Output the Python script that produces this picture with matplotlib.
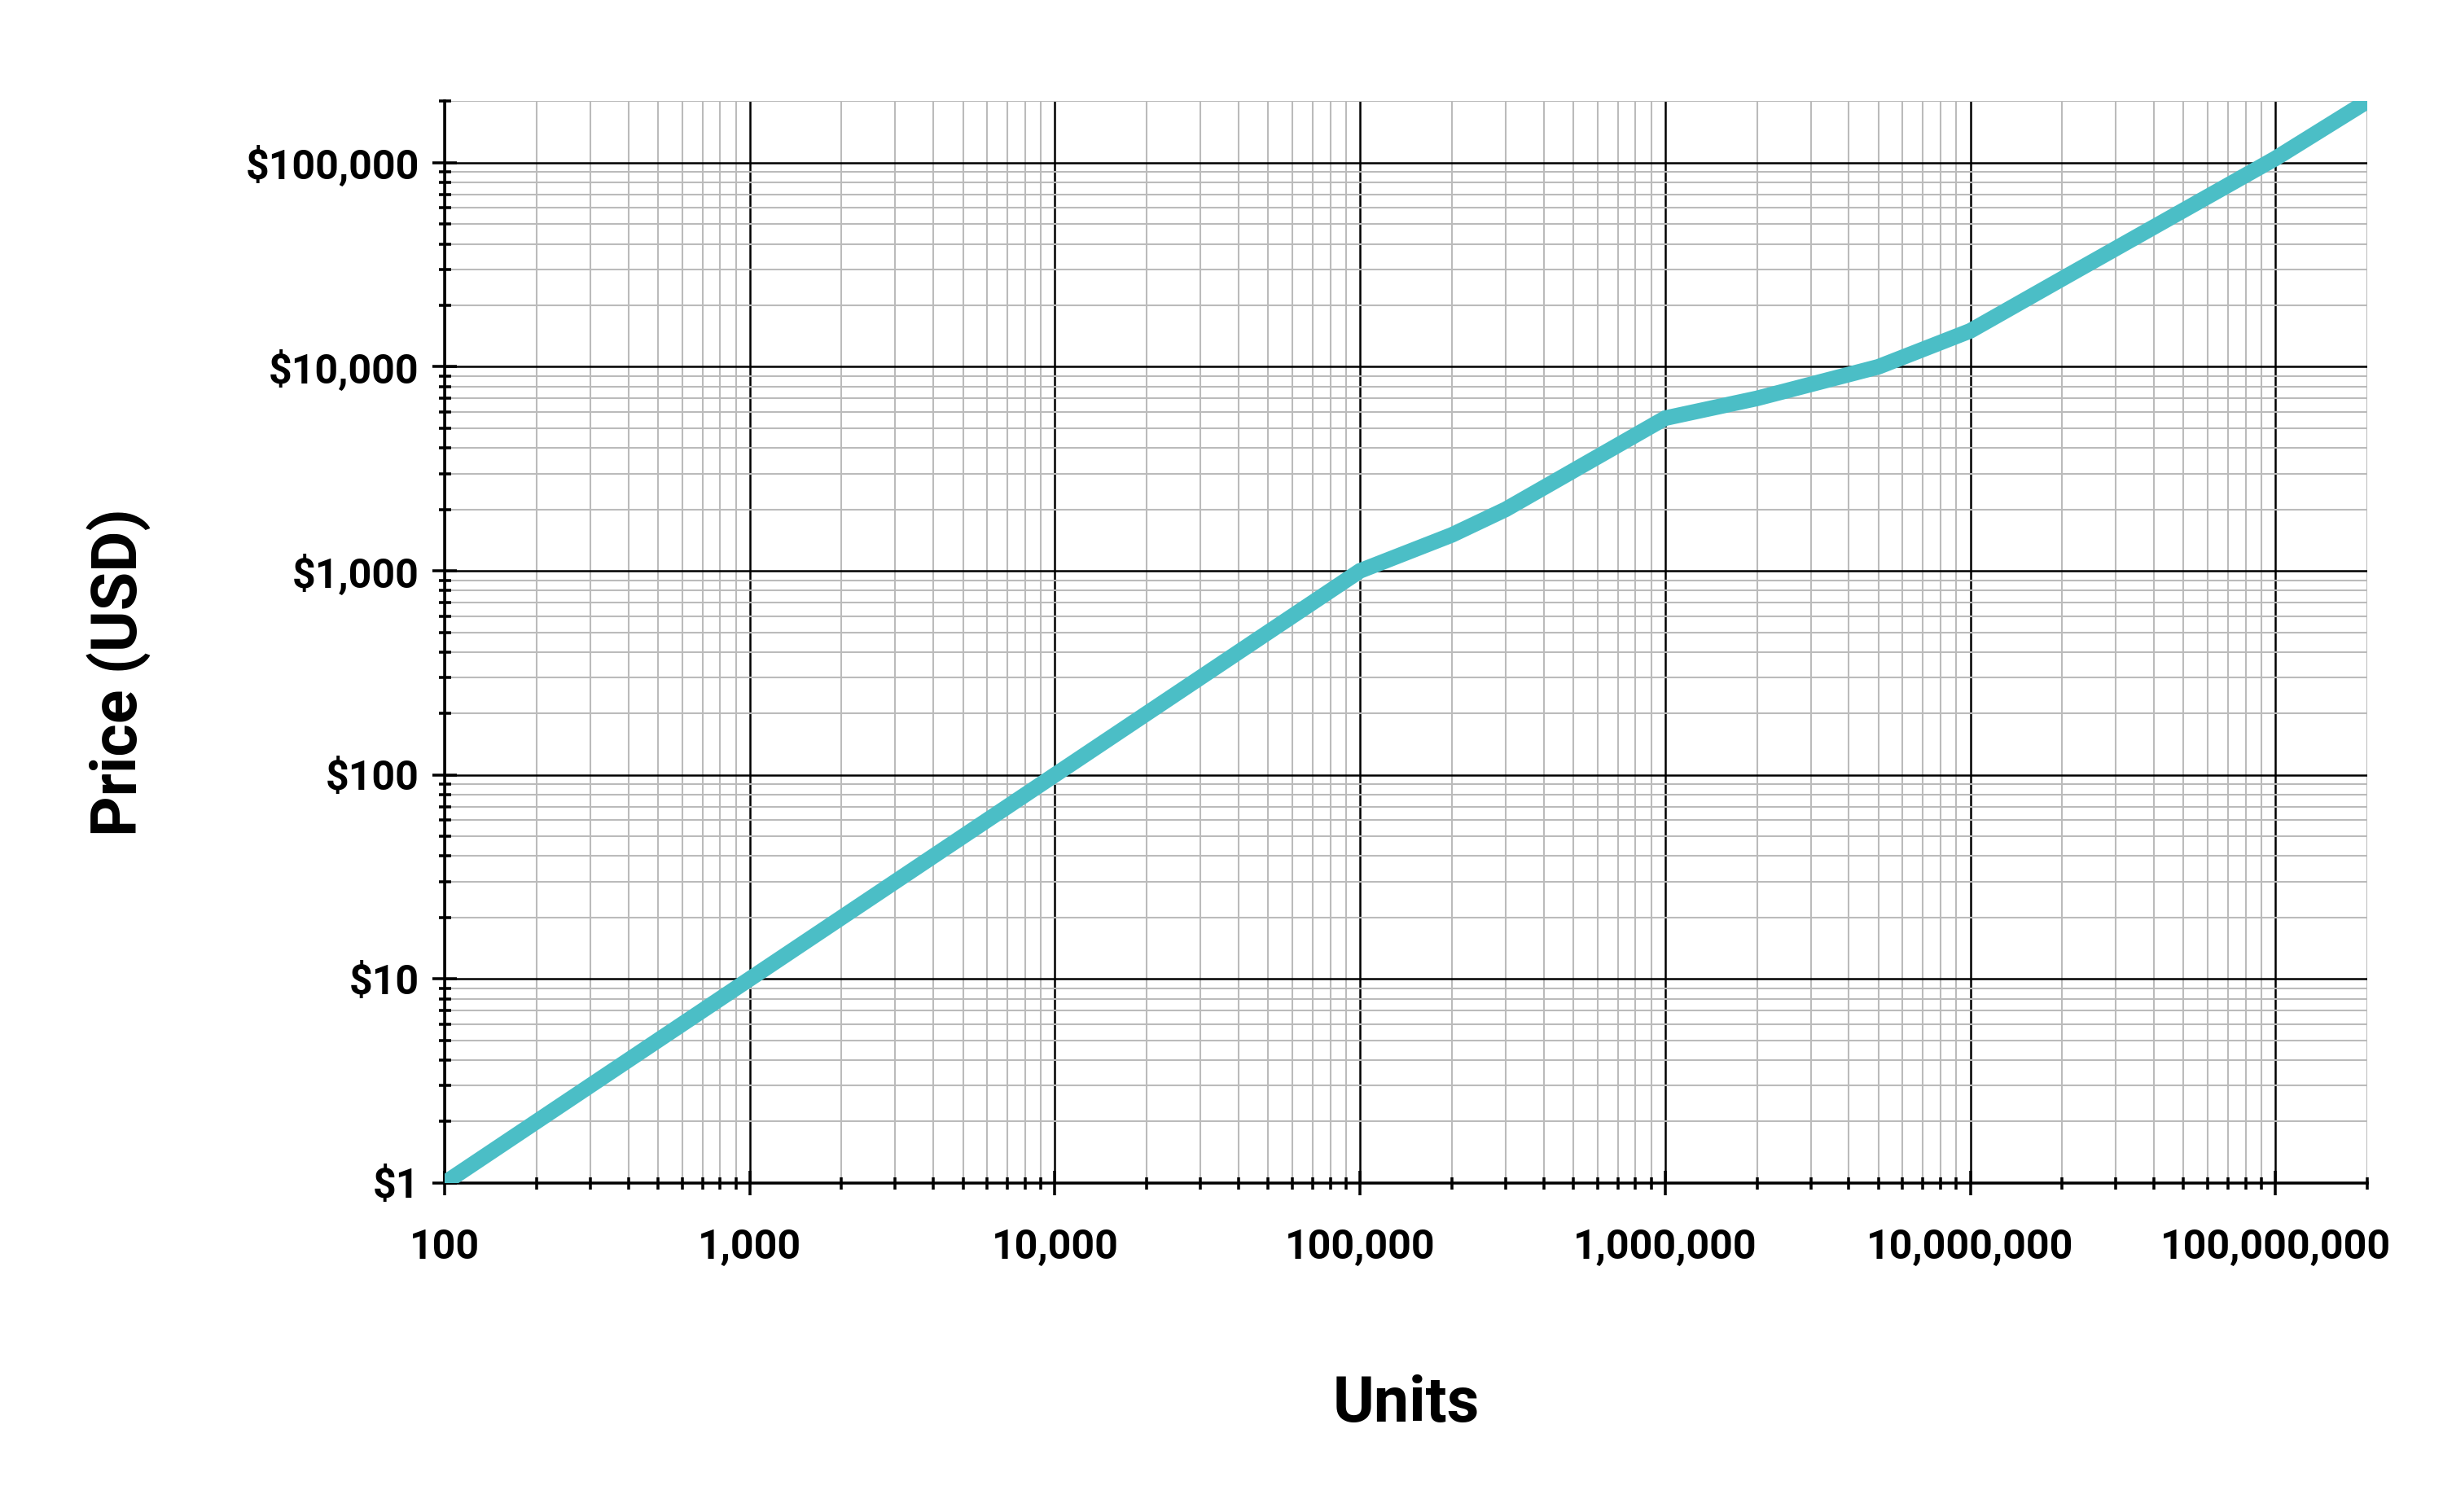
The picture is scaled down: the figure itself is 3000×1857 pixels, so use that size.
import numpy as np
import matplotlib
matplotlib.use("Agg")
import matplotlib.pyplot as plt
from matplotlib.ticker import LogLocator, FixedLocator, FixedFormatter, NullFormatter

plt.rcParams['font.family'] = ['Roboto', 'DejaVu Sans']

# units sold vs. price
units = [100, 1000, 10000, 100000, 200000, 300000, 1000000, 2000000,
         5000000, 10000000, 20000000, 100000000, 200000000]
price = [1, 10, 100, 1000, 1500, 2000, 5600, 7000,
         10000, 15000, 27000, 105000, 200000]

x_ticks = [100, 1000, 10000, 100000, 1000000, 10000000, 100000000]
x_labels = ["100", "1,000", "10,000", "100,000", "1,000,000", "10,000,000", "100,000,000"]
y_ticks = [1, 10, 100, 1000, 10000, 100000]
y_labels = ["$1", "$10", "$100", "$1,000", "$10,000", "$100,000"]

line_color = "#4bbec6"

fig = plt.figure(figsize=(10, 6.19), dpi=300)
ax = fig.add_axes([0.182, 0.2176, 0.787, 0.7154])

ax.plot(units, price, color=line_color, lw=4.6, solid_capstyle='butt',
        solid_joinstyle='miter', zorder=5, clip_on=True)

ax.set_xscale('log')
ax.set_yscale('log')
ax.set_xlim(100, 2e8)
ax.set_ylim(1, 2e5)

ax.xaxis.set_major_locator(FixedLocator(x_ticks))
ax.xaxis.set_major_formatter(FixedFormatter(x_labels))
ax.yaxis.set_major_locator(FixedLocator(y_ticks))
ax.yaxis.set_major_formatter(FixedFormatter(y_labels))
ax.xaxis.set_minor_locator(LogLocator(base=10, subs=np.arange(2, 10), numticks=20))
ax.yaxis.set_minor_locator(LogLocator(base=10, subs=np.arange(2, 10), numticks=20))
ax.xaxis.set_minor_formatter(NullFormatter())
ax.yaxis.set_minor_formatter(NullFormatter())

ax.grid(True, which='minor', color='#bbbbbb', lw=0.5, zorder=1)
ax.grid(True, which='major', color='black', lw=0.6, zorder=2)
ax.set_axisbelow(True)

for s in ['top', 'right']:
    ax.spines[s].set_visible(False)
for s in ['left', 'bottom']:
    ax.spines[s].set_linewidth(0.85)
    ax.spines[s].set_color('black')

ax.tick_params(which='major', direction='inout', length=7, width=0.85, color='black')
ax.tick_params(which='minor', direction='inout', length=3.6, width=0.85, color='black')
ax.tick_params(axis='x', which='major', pad=10, labelsize=12)
ax.tick_params(axis='y', which='major', pad=4, labelsize=12)
for lab in ax.get_xticklabels() + ax.get_yticklabels():
    lab.set_fontweight('bold')

ax.set_xlabel("Units", fontsize=18.5, fontweight='bold')
ax.set_ylabel("Price (USD)", fontsize=18.5, fontweight='bold')
ax.xaxis.set_label_coords(0.5, -0.177)
ax.yaxis.set_label_coords(-0.153, 0.472)

fig.savefig("out.png", dpi=300, facecolor='white')
